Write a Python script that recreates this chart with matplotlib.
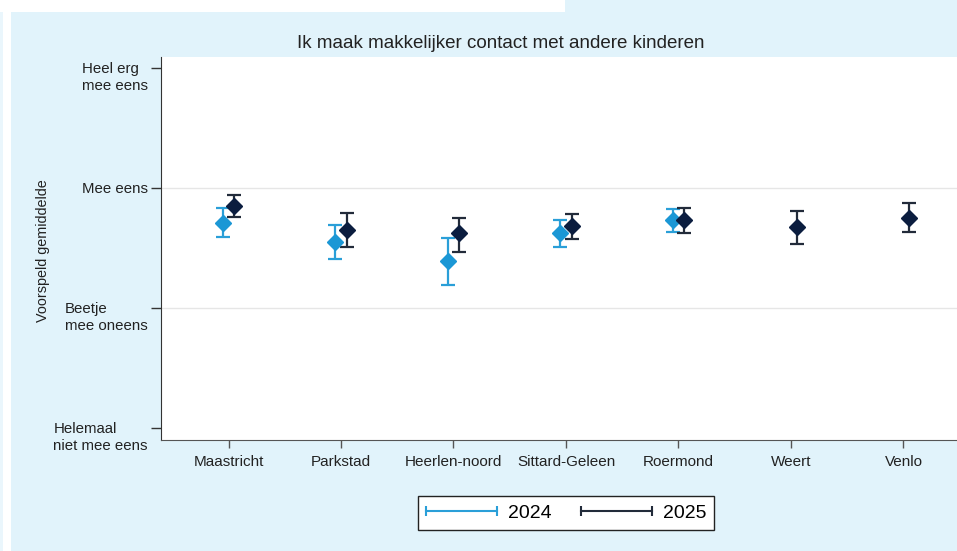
import numpy as np
import matplotlib
matplotlib.use("Agg")
import matplotlib.pyplot as plt
from matplotlib.patches import Rectangle
from matplotlib.lines import Line2D
from matplotlib.legend_handler import HandlerLine2D

plt.rcParams['font.family'] = ['Liberation Sans', 'DejaVu Sans']

# data
regions = ['Maastricht', 'Parkstad', 'Heerlen-noord', 'Sittard-Geleen', 'Roermond', 'Weert', 'Venlo']
mean_2024 = [2.71, 2.55, 2.39, 2.62, 2.73, np.nan, np.nan]
lo_2024 = [2.59, 2.41, 2.19, 2.51, 2.63, np.nan, np.nan]
hi_2024 = [2.83, 2.69, 2.58, 2.73, 2.82, np.nan, np.nan]
mean_2025 = [2.85, 2.65, 2.62, 2.68, 2.73, 2.67, 2.75]
lo_2025 = [2.76, 2.51, 2.47, 2.57, 2.62, 2.53, 2.63]
hi_2025 = [2.94, 2.79, 2.75, 2.78, 2.83, 2.81, 2.87]
ytick_vals = [1, 2, 3, 4]
ytick_labels = ['Helemaal\nniet mee eens', 'Beetje\nmee oneens', 'Mee eens', 'Heel erg\nmee eens']

c24 = '#1b97d5'
c24_bar = '#2a9fd8'
c25 = '#0b1d3f'
c25_bar = '#222b3a'
bg = '#e1f3fb'
txt = '#222222'

W, H = 957, 551
fig = plt.figure(figsize=(W / 100, H / 100), dpi=100, facecolor='white')

# background panels
fig.patches.append(Rectangle((11 / W, 0), 1 - 11 / W, (H - 12) / H, transform=fig.transFigure,
                             facecolor=bg, edgecolor='none', zorder=-10))
fig.patches.append(Rectangle((565 / W, (H - 13) / H), 1 - 565 / W, 13 / H, transform=fig.transFigure,
                             facecolor=bg, edgecolor='none', zorder=-10))
fig.patches.append(Rectangle((0, 0), 3 / W, (H - 12) / H, transform=fig.transFigure,
                             facecolor='#eaf6fc', edgecolor='none', zorder=-10))

ax = fig.add_axes([161 / W, (H - 440) / H, 1 - 161 / W, (440 - 57) / H])
ax.set_facecolor('white')

x = np.arange(1, len(regions) + 1)
off = 0.053

m24 = np.array(mean_2024)
m25 = np.array(mean_2025)
ax.errorbar(x - off, m24, yerr=[m24 - np.array(lo_2024), np.array(hi_2024) - m24],
            fmt='none', ecolor=c24_bar, elinewidth=1.6, capsize=5, capthick=1.6, zorder=3)
ax.plot(x - off, m24, linestyle='none', marker='D', markersize=8.5, color=c24, zorder=4)
ax.errorbar(x + off, m25, yerr=[m25 - np.array(lo_2025), np.array(hi_2025) - m25],
            fmt='none', ecolor=c25_bar, elinewidth=1.6, capsize=5, capthick=1.6, zorder=3)
ax.plot(x + off, m25, linestyle='none', marker='D', markersize=8.5, color=c25, zorder=4)

ax.set_xlim(0.4, 0.4 + (W - 161) / 112.5)
ax.set_ylim(0.9, 4.09)
ax.set_xticks(x)
ax.set_xticklabels(regions, fontsize=11, color=txt)
ax.set_yticks(ytick_vals)
ax.set_yticklabels([])
ax.tick_params(axis='y', length=7, width=1, color='#333333')
ax.tick_params(axis='x', length=6, width=1, color='#555555', pad=5)
for v in [2, 3]:
    ax.axhline(v, color='#e6e6e6', linewidth=1, zorder=1)

# y tick labels: first line level with the tick, lines left aligned
for v, lab in zip(ytick_vals, ytick_labels):
    ax.annotate(lab, xy=(0, v), xycoords=('axes fraction', 'data'),
                xytext=(-9.4, 4.2), textcoords='offset points',
                ha='right', va='top', multialignment='left',
                fontsize=10.8, color=txt, linespacing=1.3)

for s in ['top', 'right']:
    ax.spines[s].set_visible(False)
ax.spines['left'].set_color('#333333')
ax.spines['bottom'].set_color('#555555')

fig.text(36 / W, 1 - 251 / H, 'Voorspeld gemiddelde', rotation=90,
         ha='left', va='center', fontsize=10.4, color=txt)

fig.text(501 / W, 1 - 43 / H, 'Ik maak makkelijker contact met andere kinderen',
         ha='center', va='center', fontsize=13.5, color=txt)

handles = [Line2D([0], [0], color=c24_bar, lw=1.5, marker='|', markersize=7, markeredgewidth=1.5),
           Line2D([0], [0], color=c25_bar, lw=1.5, marker='|', markersize=7, markeredgewidth=1.5)]
leg = fig.legend(handles, ['2024', '2025'], loc='center', bbox_to_anchor=(566 / W, 1 - 513 / H),
                 ncol=2, numpoints=2, fontsize=14, frameon=True, fancybox=False,
                 handlelength=3.65, handletextpad=0.57, columnspacing=1.5, borderpad=0.42,
                 borderaxespad=0, handler_map={Line2D: HandlerLine2D(marker_pad=0)})
leg.get_frame().set_edgecolor(txt)
leg.get_frame().set_linewidth(1.0)
leg.get_frame().set_facecolor('white')
leg.get_frame().set_alpha(1)

fig.savefig('out.png', dpi=100, facecolor=fig.get_facecolor())
